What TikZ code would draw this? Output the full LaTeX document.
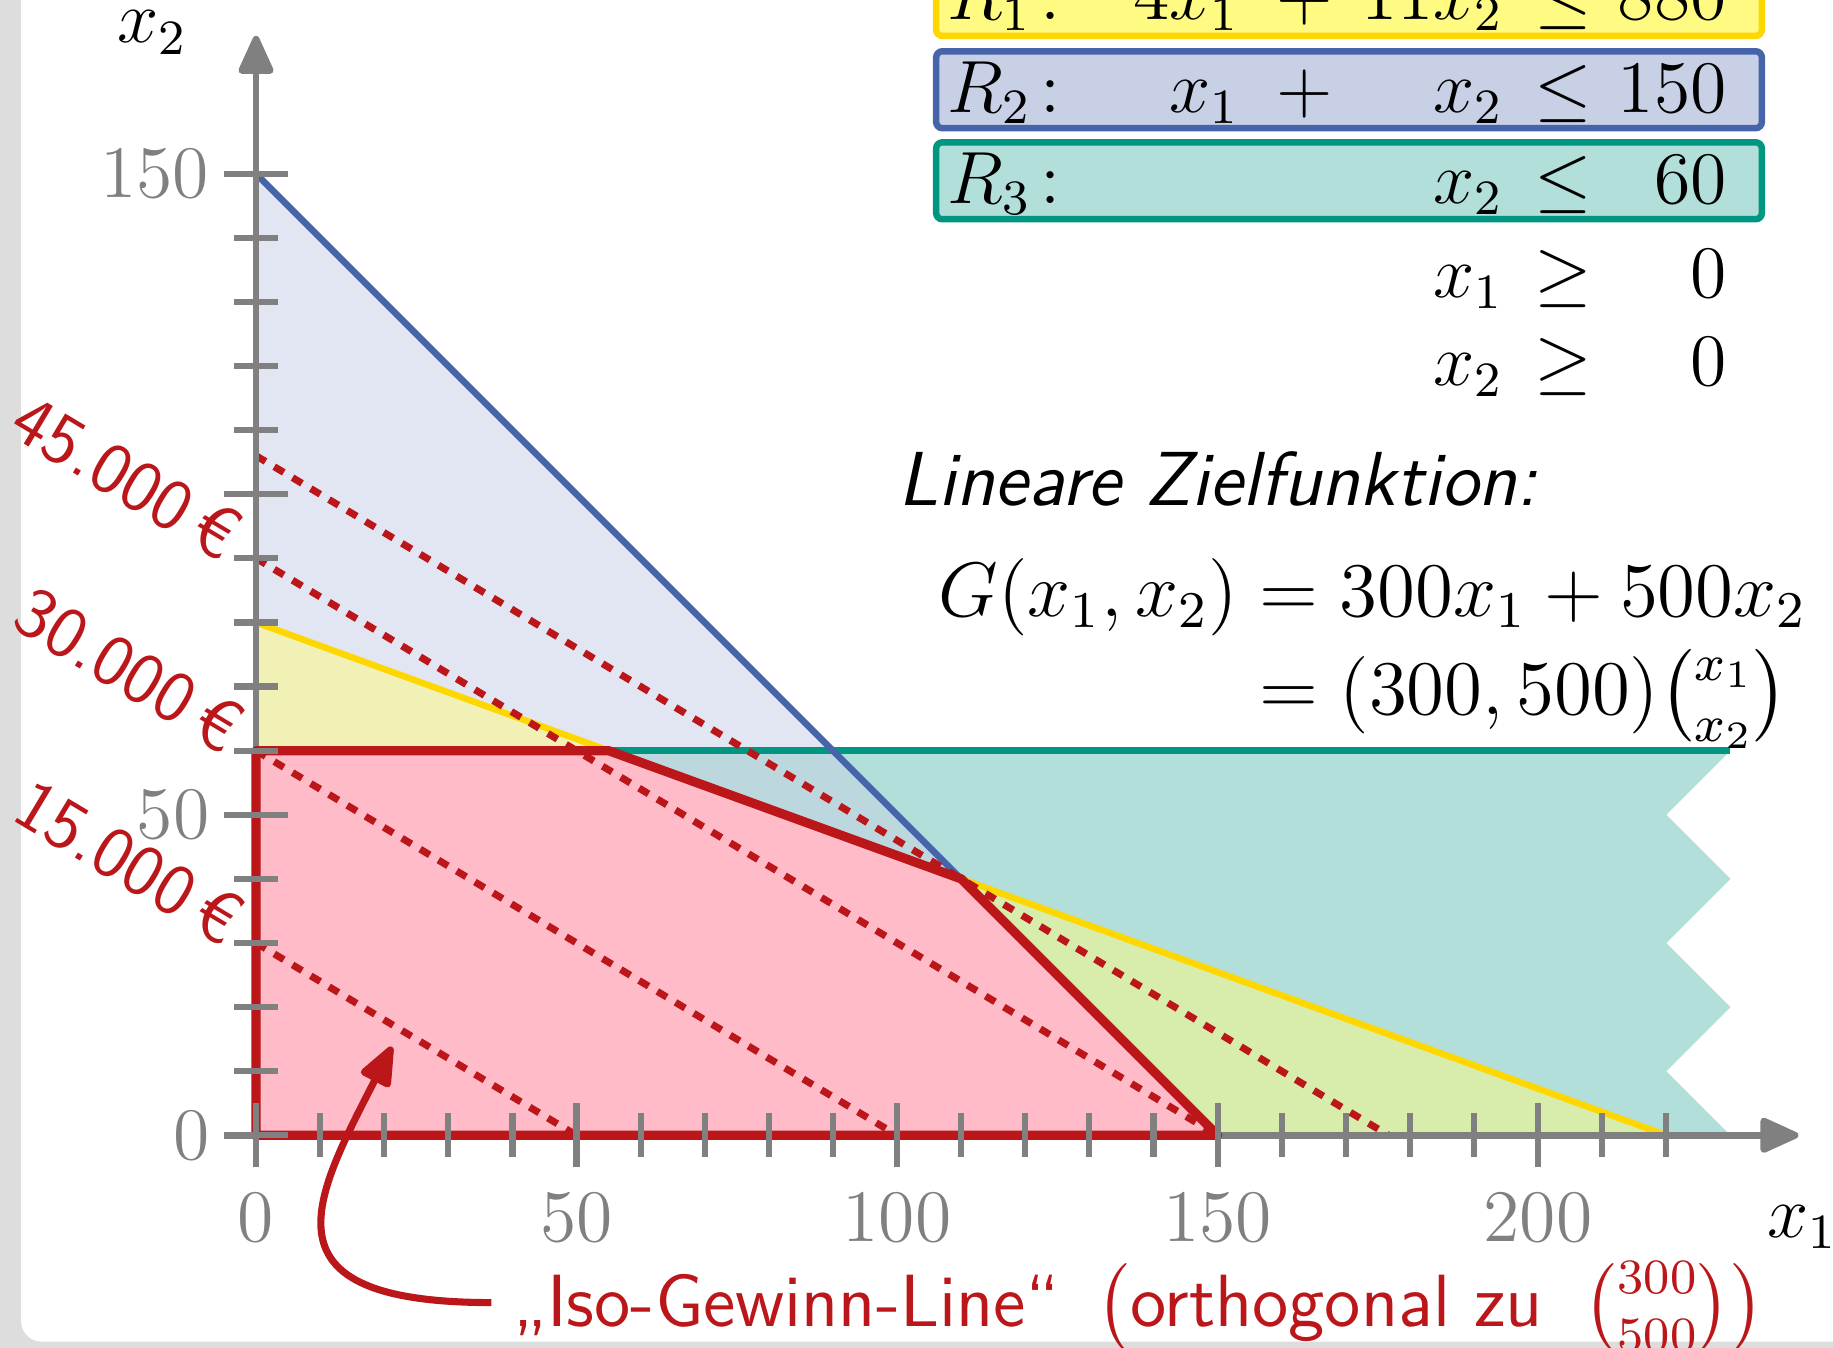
\documentclass[tikz,border=0pt]{standalone}
\usepackage{amsmath}
\usepackage{fontspec}
\usetikzlibrary{arrows.meta}
\definecolor{axgray}{RGB}{128,128,128}
\definecolor{bggray}{RGB}{221,221,221}
\definecolor{isored}{RGB}{187,22,26}
\definecolor{feaspink}{RGB}{255,188,200}
\definecolor{rblue}{RGB}{70,100,170}
\definecolor{ryellow}{RGB}{255,215,0}
\definecolor{rteal}{RGB}{0,150,130}
\definecolor{fblue}{RGB}{226,230,242}
\definecolor{fyelblue}{RGB}{241,241,182}
\definecolor{fblueteal}{RGB}{188,216,222}
\definecolor{fteal}{RGB}{178,223,218}
\definecolor{fgreen}{RGB}{216,237,172}
\definecolor{boxyellow}{RGB}{255,250,130}
\definecolor{boxblue}{RGB}{200,208,230}
\definecolor{boxteal}{RGB}{178,223,218}
\newcommand{\conrow}[8]{%
  \node[eq,anchor=base west] (#1l) at (107.7,#2) {$#3$};
  \node[eq,anchor=base east] (#1a) at (153.7,#2) {$#4$};
  \node[eq,anchor=base] (#1p) at (163.6,#2) {$#5$};
  \node[eq,anchor=base east] (#1b) at (194.9,#2) {$#6$};
  \node[eq,anchor=base] (#1r) at (204.0,#2) {$#7$};
  \node[eq,anchor=base east] (#1n) at (229.6,#2) {$#8$};
}
\begin{document}
\begin{tikzpicture}[x=0.03654cm,y=0.03654cm,
  font=\fontsize{12pt}{14pt}\selectfont,
  eq/.style={inner sep=0pt},
  axisline/.style={draw=axgray,line width=1.1pt},
  tickmark/.style={draw=axgray,line width=1pt},
  ticklbl/.style={text=axgray,inner sep=0pt},
  isoline/.style={draw=isored,line width=1.15pt,dash pattern=on 1.8pt off 1.65pt},
  isolbl/.style={text=isored,font=\fontsize{11.7pt}{14pt}\selectfont\sffamily,rotate=-30.96,anchor=east,inner sep=0pt},
  region/.style={line width=1.05pt},
  cbox/.style={line width=1.05pt,rounded corners=1pt}]
\useasboundingbox (-39.94,-33.15) rectangle (246.0,177.1);
\clip (-39.94,-33.15) rectangle (246.0,177.1);
% background
\fill[bggray] (-39.94,-33.15) rectangle (246.0,177.1);
\fill[white,rounded corners=3.4pt] (-36.66,-32.2) rectangle (260,190);
% region fills
\fill[fblue] (0,150) -- (150,0) -- (0,0) -- cycle;
\fill[fteal] (0,0) -- (0,60) -- (230,60) -- (220,50) -- (230,40) -- (220,30) -- (230,20) -- (220,10) -- (230,0) -- cycle;
\fill[fblueteal] (0,0) -- (0,60) -- (90,60) -- (150,0) -- cycle;
\fill[fyelblue] (0,60) -- (0,80) -- (55,60) -- cycle;
\fill[fgreen] (110,40) -- (150,0) -- (220,0) -- cycle;
\fill[feaspink] (0,0) -- (0,60) -- (55,60) -- (110,40) -- (150,0) -- cycle;
% constraint lines
\draw[region,rteal] (0,60) -- (230,60);
\draw[region,ryellow] (0,80) -- (220,0);
\draw[region,rblue] (0,150) -- (150,0);
% iso-profit lines
\draw[isoline] (0,30) -- (50,0);
\draw[isoline] (0,60) -- (100,0);
\draw[isoline] (0,90) -- (150,0);
\draw[isoline] (0,106) -- (176.67,0);
% axes
\draw[axisline,-{Triangle[length=7pt,width=6pt,round]}] (-5,0) -- (240.6,0);
\draw[axisline,-{Triangle[length=7pt,width=6pt,round]}] (0,-5) -- (0,171.5);
% feasible region border
\draw[isored,line width=1.5pt,line join=round] (0,0) -- (0,60) -- (55,60) -- (110,40) -- (150,0) -- cycle;
% ticks
\foreach \t in {10,20,30,40,60,70,80,90,110,120,130,140,160,170,180,190,210,220}
  \draw[tickmark] (\t,-3.4) -- (\t,3.4);
\foreach \t in {0,50,100,150,200}
  \draw[tickmark] (\t,-5) -- (\t,5);
\foreach \t in {10,20,30,40,60,70,80,90,110,120,130,140}
  \draw[tickmark] (-3.4,\t) -- (3.4,\t);
\foreach \t in {0,50,100,150}
  \draw[tickmark] (-5,\t) -- (5,\t);
% tick labels
\foreach \t in {0,50,100,150,200}
  \node[ticklbl,anchor=base] (tx\t) at (\t,-16.5) {$\t$};
\foreach \t in {0,50,150}
  \node[ticklbl,anchor=east] (ty\t) at (-7.1,\t) {$\t$};
\node[eq,anchor=base west] (xonelab) at (235.6,-15.9) {$x_1$};
\node[eq,anchor=base west] (xtwolab) at (-21.8,170.4) {$x_2$};
% iso labels
\node[isolbl] (l15) at (-2.8,32.6) {15.000\,€};
\node[isolbl] (l30) at (-2.8,62.6) {30.000\,€};
\node[isolbl] (l45) at (-3.2,92.6) {45.000\,€};
% constraint boxes
\draw[cbox,draw=ryellow,fill=boxyellow] (106.1,171.5) rectangle (234.9,183.5);
\draw[cbox,draw=rblue,fill=boxblue] (106.1,157.1) rectangle (234.9,169.1);
\draw[cbox,draw=rteal,fill=boxteal] (106.1,142.9) rectangle (234.9,154.9);
\conrow{ra}{174.0}{R_1\colon}{4x_1}{+}{11x_2}{\le}{880}
\conrow{rb}{159.6}{R_2\colon}{x_1}{+}{x_2}{\le}{150}
\conrow{rc}{145.3}{R_3\colon}{}{}{x_2}{\le}{60}
\conrow{rd}{130.7}{}{}{}{x_1}{\ge}{0}
\conrow{re}{116.9}{}{}{}{x_2}{\ge}{0}
% objective
\node[eq,anchor=base west,scale=1.035,font=\fontsize{12pt}{14pt}\selectfont\sffamily\itshape] (zf) at (100.0,98.2) {Lineare Zielfunktion:};
\node[eq,anchor=base west,scale=1.044] (gone) at (106.3,81.0) {$G(x_1,x_2) = 300x_1 + 500x_2$};
\node[eq,anchor=base west,scale=1.044] (gtwo) at (106.3,65.6) {$\phantom{G(x_1,x_2)} = (300,500)\binom{x_1}{x_2}$};
% iso label and arrow
\node[eq,anchor=base west,text=isored,font=\fontsize{12pt}{14pt}\selectfont\sffamily] (iso) at (39.9,-29.8) {„Iso-Gewinn-Line“\,\ $\bigl(\text{orthogonal zu}\;\;\binom{300}{500}\bigr)$};
\coordinate (arrstart) at (36.7,-26.1);
\coordinate (arrtip) at (21.2,13.8);
\draw[isored,line width=1.15pt,-{Triangle[length=7.3pt,width=5.6pt,round]}] (arrstart) .. controls (0,-26.1) and (9,-10) .. (arrtip);
\end{tikzpicture}
\end{document}
